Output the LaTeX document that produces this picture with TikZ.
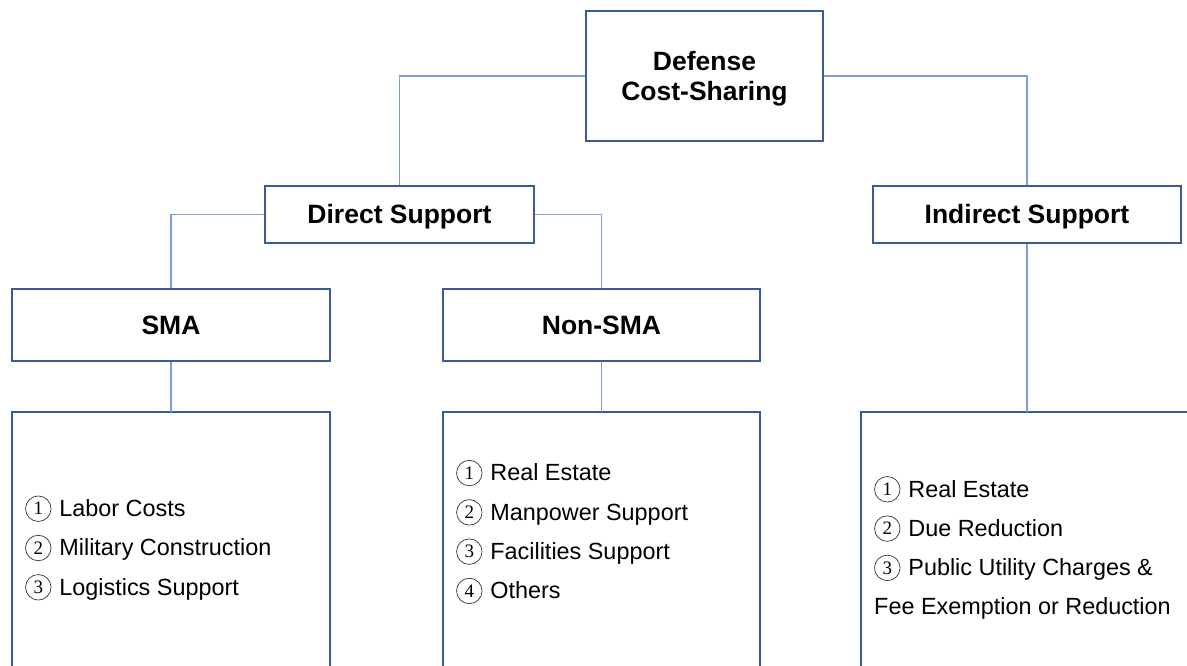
\documentclass[tikz,border=0pt]{standalone}
\usepackage{fontspec}
\setmainfont{Liberation Sans}
\newfontfamily\digitfont{Liberation Serif}
\definecolor{boxblue}{HTML}{3B5A9C}
\definecolor{linkblue}{HTML}{7F9ED8}
\newcommand{\cnum}[1]{\tikz[baseline={([yshift=-7.8pt]cc.center)},x=1pt,y=1pt]\node[circle,draw=black!80,line width=0.7pt,inner sep=0pt,minimum size=25.5pt,font=\digitfont\fontsize{19}{19}\selectfont] (cc) {#1};\hspace{8pt}}
\begin{document}
\begin{tikzpicture}[x=1pt,y=-1pt,
  hbox/.style={draw=boxblue,line width=1.4pt,fill=white,inner sep=0pt,
    font=\fontsize{26.5}{30}\selectfont\bfseries,align=center,
    text height=19pt,text depth=0pt},
  lbox/.style={draw=boxblue,line width=1.4pt},
  link/.style={draw=linkblue,line width=1.1pt},
  ltext/.style={anchor=west,align=left,inner sep=0pt,
    font=\fontsize{23.4}{39.3}\selectfont}]
\useasboundingbox (0,0) rectangle (1187,666);
% header boxes
\node[hbox,minimum width=237pt,minimum height=130pt] (top) at (704.5,76) {};
\node[font=\fontsize{26.5}{30}\selectfont\bfseries,align=center,inner sep=0pt] (toptext) at (704.5,79) {Defense\\Cost-Sharing};
\node[hbox,minimum width=269pt,minimum height=57pt] (direct) at (399.5,214.5) {Direct Support};
\node[hbox,minimum width=308pt,minimum height=57pt] (indirect) at (1027,214.5) {Indirect Support};
\node[hbox,minimum width=318pt,minimum height=72pt] (sma) at (171,325) {SMA};
\node[hbox,minimum width=317pt,minimum height=72pt] (nonsma) at (601.5,325) {Non-SMA};
% list boxes
\draw[lbox] (12,690) -- (12,412) -- (330,412) -- (330,690);
\draw[lbox] (443,690) -- (443,412) -- (760,412) -- (760,690);
\draw[lbox] (861,690) -- (861,412) -- (1200,412);
\coordinate (smaL) at (171,412);
\coordinate (nonL) at (601.5,412);
\coordinate (indL) at (1027,412);
% connectors
\draw[link] (top.west) -| (direct.north);
\draw[link] (top.east) -| (indirect.north);
\draw[link] (direct.west) -| (sma.north);
\draw[link] (direct.east) -| (nonsma.north);
\draw[link] (sma.south) -- (smaL);
\draw[link] (nonsma.south) -- (nonL);
\draw[link] (indirect.south) -- (indL);
% list texts
\node[ltext] (smalist) at (25,548) {\cnum{1}Labor Costs\\\cnum{2}Military Construction\\\cnum{3}Logistics Support};
\node[ltext] (nonlist) at (456,532) {\cnum{1}Real Estate\\\cnum{2}Manpower Support\\\cnum{3}Facilities Support\\\cnum{4}Others};
\node[ltext] (indlist) at (874,548) {\cnum{1}Real Estate\\\cnum{2}Due Reduction\\\cnum{3}Public Utility Charges \&\\Fee Exemption or Reduction};
\end{tikzpicture}
\end{document}
